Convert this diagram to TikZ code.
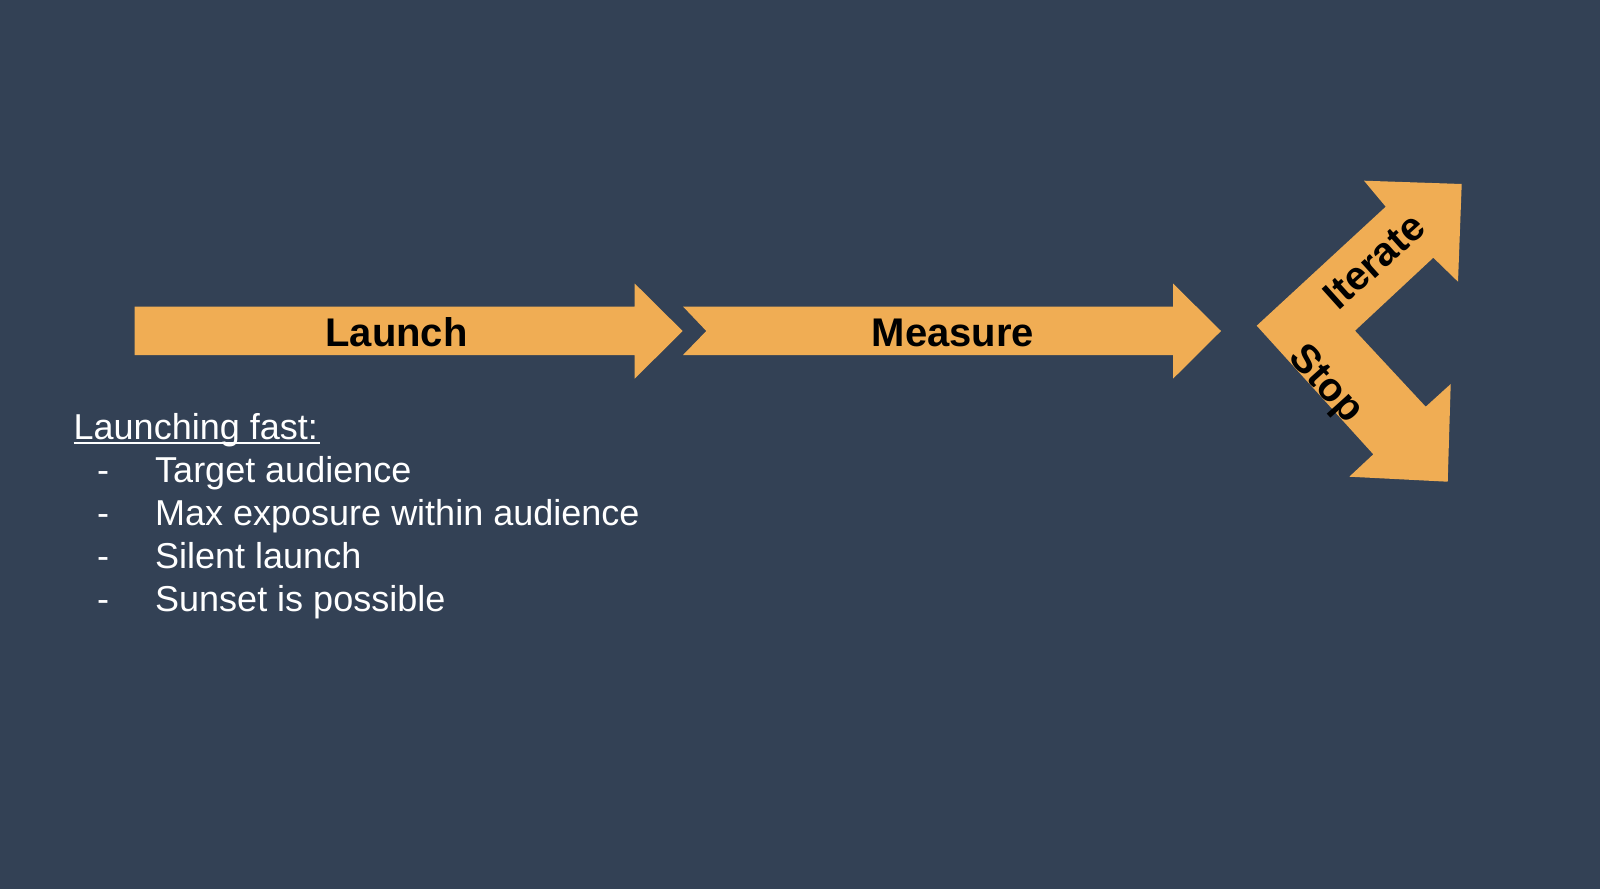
\documentclass[tikz,border=0pt]{standalone}
\usepackage{fontspec}
\setmainfont{Liberation Sans}
\definecolor{bg}{RGB}{51,65,85}
\definecolor{org}{RGB}{240,173,84}
\tikzset{
  blockarrow/.style={fill=org},
  lbl/.style={text=black,font=\bfseries\fontsize{40}{48}\selectfont,inner sep=0pt},
  item/.style={text=white,font=\fontsize{36}{43}\selectfont,inner sep=0pt,anchor=base west},
}
\begin{document}
\begin{tikzpicture}[x=1pt,y=-1pt]
\fill[bg] (0,0) rectangle (1600,889);
\useasboundingbox (0,0) rectangle (1600,889);
% Launch arrow
\fill[blockarrow] (134.5,306.5) -- (634.7,306.5) -- (634.7,283.5) -- (682.6,331) -- (634.7,378.7) -- (634.7,355) -- (134.5,355) -- cycle;
% Measure arrow
\fill[blockarrow] (683,306.5) -- (1173,306.5) -- (1173,283.5) -- (1221,331) -- (1173,378.7) -- (1173,355) -- (683,355) -- (706.3,331) -- cycle;
% Split arrow
\fill[blockarrow] (1256.7,325.7) -- (1385.7,206.7) -- (1364,180.7) -- (1461.7,184) -- (1458,281.7) -- (1433.3,257.7) -- (1355,330.7) -- (1425.7,406.7) -- (1450.7,384) -- (1447.7,481.7) -- (1349.3,476.7) -- (1373.3,454.3) -- cycle;
\node[lbl,anchor=base] (launch) at (396.5,346.7) {Launch};
\node[lbl,anchor=base] (measure) at (953,346.7) {Measure};
\node[lbl,rotate=42] (iterate) at (1374,261) {Iterate};
\node[lbl,rotate=-48] (stop) at (1325,385) {Stop};
% list
\node[item] (head) at (73.5,439) {Launching fast:};
\draw[white,line width=1.6pt] ([yshift=-4pt]head.base west) -- ([yshift=-4pt,xshift=2pt]head.base east);
\node[item] (d1) at (97,482.5) {-};
\node[item] (t1) at (155,482.5) {Target audience};
\node[item] (d2) at (97,525.4) {-};
\node[item] (t2) at (155,525.4) {Max exposure within audience};
\node[item] (d3) at (97,568.3) {-};
\node[item] (t3) at (155,568.3) {Silent launch};
\node[item] (d4) at (97,611.2) {-};
\node[item] (t4) at (155,611.2) {Sunset is possible};
\end{tikzpicture}
\end{document}
